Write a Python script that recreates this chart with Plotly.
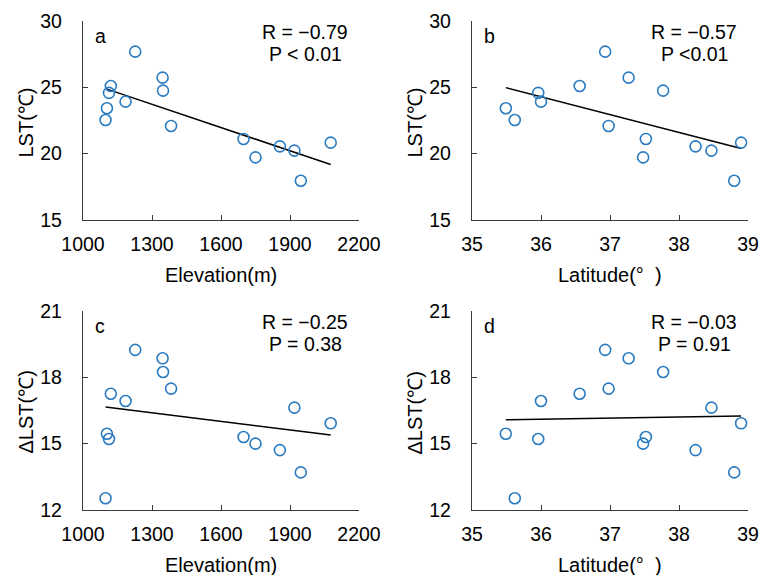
import numpy as np
import plotly.graph_objects as go

elevation = [1098, 1104, 1113, 1121, 1185, 1227, 1346, 1348, 1383, 1698, 1750, 1856, 1919, 1947, 2077]
latitude = [35.62, 35.49, 35.96, 36.56, 36.00, 36.93, 37.27, 37.77, 36.98, 37.52, 37.48, 38.24, 38.47, 38.80, 38.90]
lst = [22.54, 23.42, 24.58, 25.10, 23.92, 27.69, 25.73, 24.75, 22.09, 21.11, 19.72, 20.55, 20.23, 17.96, 20.83]
dlst = [12.53, 15.45, 15.21, 17.26, 16.93, 19.24, 18.86, 18.24, 17.49, 15.30, 15.00, 14.71, 16.63, 13.70, 15.92]

panel_letters = ["a", "b", "c", "d"]
r_texts = ["R = −0.79", "R = −0.57", "R = −0.25", "R = −0.03"]
p_texts = ["P < 0.01", "P <0.01", "P = 0.38", "P = 0.91"]
x_titles = ["Elevation(m)", "Latitude(°  )", "Elevation(m)", "Latitude(°  )"]
y_titles = ["LST(℃)", "LST(℃)", "ΔLST(℃)", "ΔLST(℃)"]

W, H = 759, 575
FONT = "Liberation Sans, Arial, sans-serif"
BLUE = "#2B7BC0"
AX = "#3a3a3a"

panels = [
    (elevation, lst, (83, 359), (21, 220), [1000, 2200], 300, [15, 30], 5),
    (latitude, lst, (472, 748), (21, 220), [35, 39], 1, [15, 30], 5),
    (elevation, dlst, (83, 359), (311, 510), [1000, 2200], 300, [12, 21], 3),
    (latitude, dlst, (472, 748), (311, 510), [35, 39], 1, [12, 21], 3),
]

fig = go.Figure()
annotations = []
layout = {}
for i, (xs, ys, (x0, x1), (y0, y1), xr, dx, yr, dy) in enumerate(panels):
    n = i + 1
    xa = "x" if n == 1 else f"x{n}"
    ya = "y" if n == 1 else f"y{n}"
    xs_a = np.array(xs, float)
    ys_a = np.array(ys, float)
    k, b = np.polyfit(xs_a, ys_a, 1)
    lx = np.array([xs_a.min(), xs_a.max()])
    fig.add_trace(go.Scatter(x=lx, y=k * lx + b, mode="lines",
                             line=dict(color="black", width=1.5),
                             xaxis=xa, yaxis=ya, showlegend=False, hoverinfo="skip"))
    fig.add_trace(go.Scatter(x=xs, y=ys, mode="markers",
                             marker=dict(symbol="circle-open", size=11, color=BLUE,
                                         line=dict(width=1.6, color=BLUE)),
                             xaxis=xa, yaxis=ya, showlegend=False))
    xkey = "xaxis" if n == 1 else f"xaxis{n}"
    ykey = "yaxis" if n == 1 else f"yaxis{n}"
    layout[xkey] = dict(domain=[x0 / W, x1 / W], range=xr, dtick=dx, tick0=xr[0],
                        anchor=ya, showline=True, linecolor=AX, linewidth=1.3,
                        ticks="inside", ticklen=5, tickcolor=AX, tickwidth=1.3,
                        showgrid=False, zeroline=False, ticklabelstandoff=6,
                        automargin=False,
                        tickfont=dict(family=FONT, size=19.5, color="black"))
    layout[ykey] = dict(domain=[1 - y1 / H, 1 - y0 / H], range=yr, dtick=dy, tick0=yr[0],
                        anchor=xa, showline=True, linecolor=AX, linewidth=1.3,
                        ticks="inside", ticklen=5, tickcolor=AX, tickwidth=1.3,
                        showgrid=False, zeroline=False, ticklabelstandoff=16,
                        automargin=False,
                        tickfont=dict(family=FONT, size=19.5, color="black"))
    cx = (x0 + x1) / 2
    annotations.append(dict(text=x_titles[i], x=cx / W, y=1 - (y1 + 55) / H,
                            xref="paper", yref="paper", showarrow=False,
                            xanchor="center", yanchor="middle",
                            font=dict(family=FONT, size=20, color="black")))
    annotations.append(dict(text=y_titles[i], x=(x0 - 58) / W, y=1 - ((y0 + y1) / 2 + 2) / H,
                            xref="paper", yref="paper", showarrow=False, textangle=-90,
                            xanchor="center", yanchor="middle",
                            font=dict(family=FONT, size=20, color="black")))
    annotations.append(dict(text=panel_letters[i], x=(x0 + 10) / W, y=1 - (y0 + 15) / H,
                            xref="paper", yref="paper", showarrow=False,
                            xanchor="left", yanchor="middle",
                            font=dict(family=FONT, size=19.5, color="black")))
    annotations.append(dict(text=r_texts[i], x=(x1 - 54) / W, y=1 - (y0 + 11) / H,
                            xref="paper", yref="paper", showarrow=False,
                            xanchor="center", yanchor="middle",
                            font=dict(family=FONT, size=19.5, color="black")))
    annotations.append(dict(text=p_texts[i], x=(x1 - 54) / W, y=1 - (y0 + 33) / H,
                            xref="paper", yref="paper", showarrow=False,
                            xanchor="center", yanchor="middle",
                            font=dict(family=FONT, size=19.5, color="black")))

fig.update_layout(width=W, height=H, margin=dict(l=0, r=0, t=0, b=0, pad=0),
                  paper_bgcolor="white", plot_bgcolor="white",
                  annotations=annotations, **layout)
fig.write_html("out.html", post_script="document.body.style.margin='0';")
